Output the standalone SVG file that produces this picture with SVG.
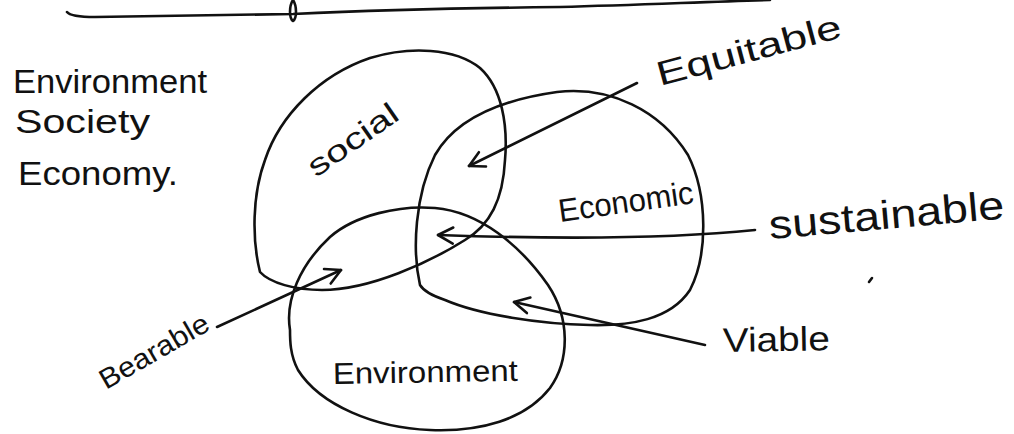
<svg xmlns="http://www.w3.org/2000/svg" width="1014" height="434" viewBox="0 0 1014 434">
  <style>
    .ink { fill: none; stroke: #111; stroke-width: 2.6; stroke-linecap: round; stroke-linejoin: round; }
    .lbl { font-family: "Liberation Sans", "DejaVu Sans", sans-serif; fill: #111; }
  </style>
  <defs>
    <!-- open chevron head used on every pointer line -->
    <marker id="chev" viewBox="-18 -10 20 20" markerWidth="20" markerHeight="20" refX="0" refY="0" orient="auto" markerUnits="userSpaceOnUse">
      <path d="M -15 -8 L 0 0 L -15 8" fill="none" stroke="#111" stroke-width="2.6" stroke-linecap="round" stroke-linejoin="round"/>
    </marker>
  </defs>

  <rect width="1014" height="434" fill="#ffffff"/>

  <!-- heading underline with curl of the previous line's letter -->
  <g id="heading-rule">
    <path class="ink" d="M 67 12 C 70 16, 80 17, 95 17 C 180 16, 250 15, 293 14 C 380 10, 470 8, 560 7 C 640 5, 700 2, 770 0"/>
    <path class="ink" d="M 293 0 C 289 6, 289 18, 293 21 C 297 18, 297 6, 293 0"/>
  </g>

  <!-- left-hand list -->
  <g id="list">
    <text class="lbl" x="13" y="93" font-size="34" textLength="194" lengthAdjust="spacingAndGlyphs">Environment</text>
    <text class="lbl" x="15" y="133" font-size="34" textLength="135" lengthAdjust="spacingAndGlyphs">Society</text>
    <text class="lbl" x="18" y="185" font-size="34" textLength="160" lengthAdjust="spacingAndGlyphs">Economy.</text>
  </g>

  <!-- social circle -->
  <g id="social">
    <path class="ink" d="M 260 272 C 252 240, 252 195, 265 160 C 280 115, 320 75, 370 58 C 410 46, 455 48, 480 68 C 502 88, 508 125, 505 160 C 503 200, 490 225, 465 240 C 430 262, 370 290, 322 290 C 295 290, 270 283, 260 272 Z"/>
    <text class="lbl" font-size="30" transform="translate(316 178) rotate(-35)" textLength="104" lengthAdjust="spacingAndGlyphs">social</text>
  </g>

  <!-- economic circle -->
  <g id="economic">
    <path class="ink" d="M 420 285 C 412 250, 415 195, 435 155 C 455 120, 500 100, 557 92 C 610 86, 660 110, 688 155 C 708 195, 708 255, 690 290 C 670 320, 630 326, 590 325 C 540 324, 480 315, 445 300 C 430 295, 423 290, 420 285 Z"/>
    <text class="lbl" font-size="32" transform="translate(560 222) rotate(-8)" textLength="136" lengthAdjust="spacingAndGlyphs">Economic</text>
  </g>

  <!-- environment circle -->
  <g id="environment">
    <path class="ink" d="M 290 330 C 285 300, 300 265, 330 237 C 355 215, 400 205, 435 208 C 480 212, 520 245, 548 285 C 570 318, 570 360, 550 388 C 525 420, 480 432, 430 430 C 375 428, 320 405, 298 370 C 290 355, 290 340, 290 330 Z"/>
    <text class="lbl" font-size="30" transform="translate(333 384) rotate(-1)" textLength="185" lengthAdjust="spacingAndGlyphs">Environment</text>
  </g>

  <!-- pointer lines into the overlaps -->
  <g id="connectors">
    <path class="ink" d="M 637 83 L 469 166" marker-end="url(#chev)"/>
    <path class="ink" d="M 755 230 Q 640 242 438 235" marker-end="url(#chev)"/>
    <path class="ink" d="M 705 345 L 514 302" marker-end="url(#chev)"/>
    <path class="ink" d="M 217 327 L 341 270" marker-end="url(#chev)"/>
  </g>

  <!-- pointer labels -->
  <g id="equitable">
    <text class="lbl" font-size="34" transform="translate(660 86) rotate(-15)" textLength="190" lengthAdjust="spacingAndGlyphs">Equitable</text>
  </g>
  <g id="sustainable">
    <text class="lbl" font-size="40" transform="translate(770 239) rotate(-5)" textLength="236" lengthAdjust="spacingAndGlyphs">sustainable</text>
  </g>
  <g id="viable">
    <text class="lbl" font-size="34" transform="translate(723 352) rotate(-1)" textLength="107" lengthAdjust="spacingAndGlyphs">Viable</text>
  </g>
  <g id="bearable">
    <text class="lbl" font-size="28" transform="translate(106 390) rotate(-30)" textLength="122" lengthAdjust="spacingAndGlyphs">Bearable</text>
  </g>

  <!-- stray pen mark -->
  <path class="ink" d="M 869 282 L 872 278"/>
</svg>
